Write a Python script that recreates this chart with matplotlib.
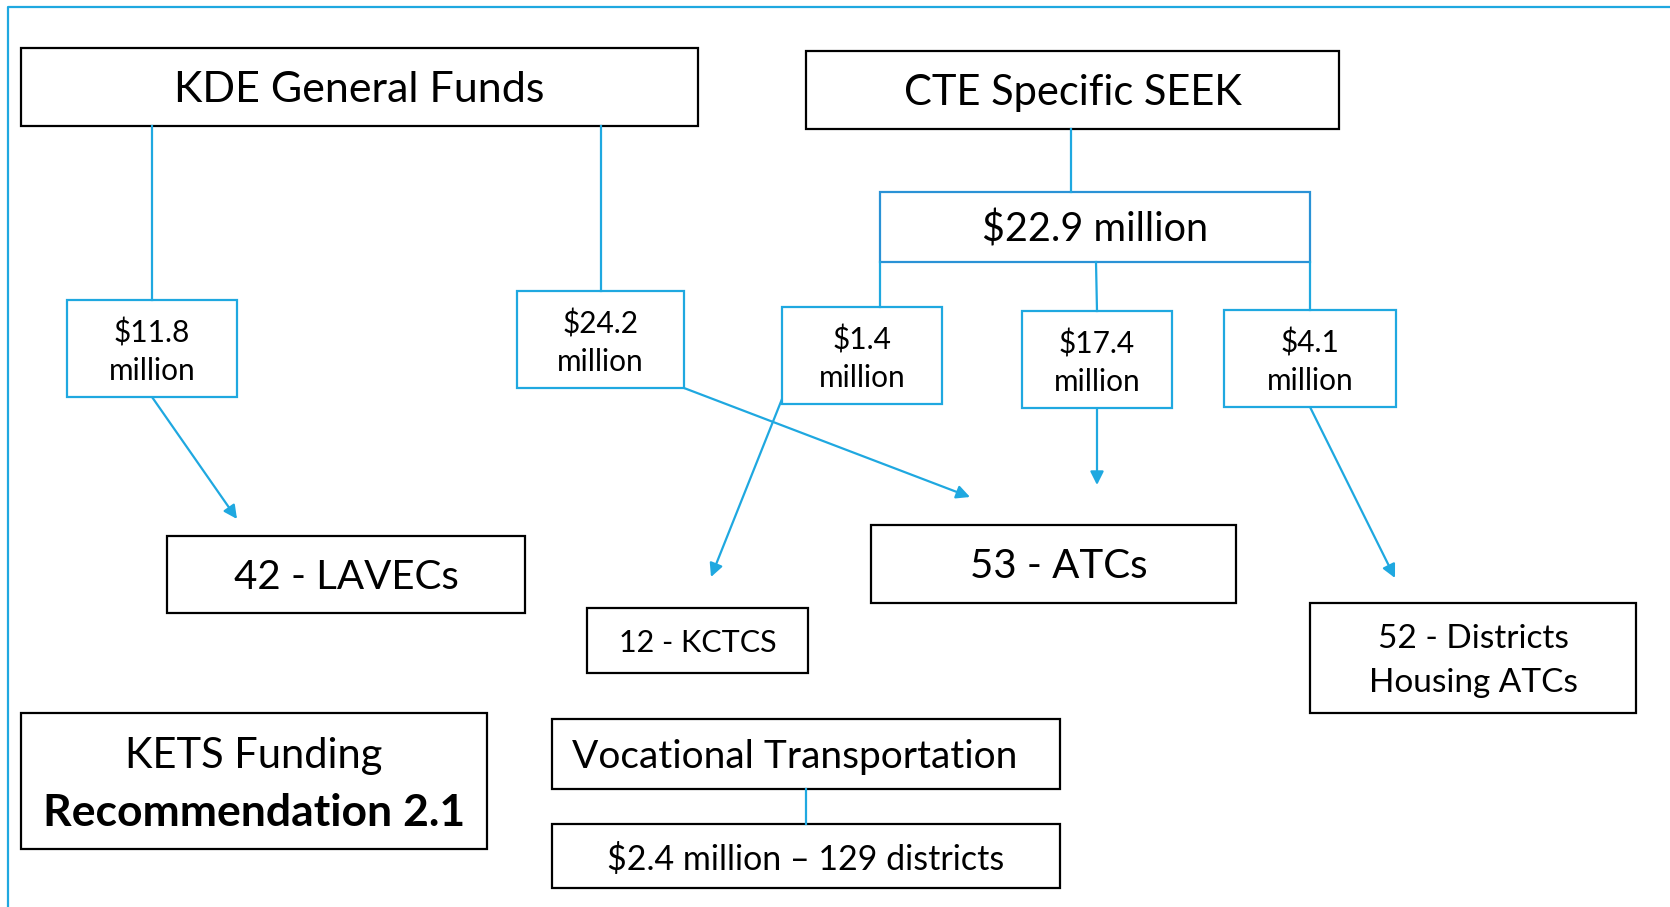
"""KETS funding flow diagram (Recommendation 2.1)."""
import matplotlib
matplotlib.use("Agg")
import matplotlib.pyplot as plt
from matplotlib.patches import Rectangle, FancyArrowPatch

W, H = 1670, 907
BLUE = "#1fa8e0"
BOX_BLUE = "#2a92d6"
TEXT_DY = 3  # small downward nudge, the original font sits lower

plt.rcParams["font.family"] = ["Lato", "DejaVu Sans"]

# node labels
node_ids = ["kde", "cte", "m229", "m118", "m242", "m14", "m174", "m41",
            "lavec", "atc", "kctcs", "dist", "kets", "voc", "voc_amt"]
node_labels = ["KDE General Funds", "CTE Specific SEEK", "$22.9 million",
               "$11.8\nmillion", "$24.2\nmillion", "$1.4\nmillion",
               "$17.4\nmillion", "$4.1\nmillion", "42 - LAVECs", "53 - ATCs",
               "12 - KCTCS", "52 - Districts\nHousing ATCs", None,
               "Vocational Transportation", "$2.4 million \u2013 129 districts"]
kets_lines = ["KETS Funding", "Recommendation 2.1"]

# layout (pixel boxes: x0, y0, x1, y1), edge colour, font size, text x shift
LAYOUT = {
    "kde": ((21, 48, 698, 126), "k", 31, 0),
    "cte": ((806, 51, 1339, 129), "k", 30, 0),
    "m229": ((880, 192, 1310, 262), BOX_BLUE, 28.5, 0),
    "m118": ((67, 300, 237, 397), BLUE, 21.5, 0),
    "m242": ((517, 291, 684, 388), BLUE, 21.5, 0),
    "m14": ((782, 307, 942, 404), BLUE, 21.5, 0),
    "m174": ((1022, 311, 1172, 408), BLUE, 21.5, 0),
    "m41": ((1224, 310, 1396, 407), BLUE, 21.5, 0),
    "lavec": ((167, 536, 525, 613), "k", 29, 0),
    "atc": ((871, 525, 1236, 603), "k", 29, 5),
    "kctcs": ((587, 608, 808, 673), "k", 22, 0),
    "dist": ((1310, 603, 1636, 713), "k", 24, 0),
    "kets": ((21, 713, 487, 849), "k", 30, 0),
    "voc": ((552, 719, 1060, 789), "k", 28, -11),
    "voc_amt": ((552, 824, 1060, 888), "k", 24.5, 0),
}

# plain connectors and arrows
links = [((152, 126), (152, 300)), ((601, 126), (601, 291)),
         ((1071, 129), (1071, 192)), ((880, 262), (880, 307)),
         ((1096, 262), (1097, 311)), ((1310, 262), (1310, 310)),
         ((806, 789), (806, 824))]
arrows = [((152, 397), (237, 519)), ((684, 388), (970, 497)),
          ((782, 399), (711, 577)), ((1097, 408), (1097, 485)),
          ((1310, 407), (1395, 578))]


def main():
    fig = plt.figure(figsize=(W / 100, H / 100), dpi=100)
    ax = fig.add_axes([0, 0, 1, 1])
    ax.set_xlim(0, W)
    ax.set_ylim(H, 0)
    ax.axis("off")

    # outer frame (left and top)
    ax.plot([8, 8, W], [H, 7, 7], color=BLUE, lw=1.6)

    for (a, b) in links:
        ax.plot([a[0], b[0]], [a[1], b[1]], color=BLUE, lw=1.6)
    for (a, b) in arrows:
        ax.add_patch(FancyArrowPatch(a, b, arrowstyle="-|>", mutation_scale=20,
                                     color=BLUE, lw=1.6, shrinkA=0, shrinkB=0))

    for nid, label in zip(node_ids, node_labels):
        (x0, y0, x1, y1), ec, fs, dx = LAYOUT[nid]
        ax.add_patch(Rectangle((x0, y0), x1 - x0, y1 - y0, fc="white",
                               ec=ec, lw=1.6))
        cx, cy = (x0 + x1) / 2 + dx, (y0 + y1) / 2 + TEXT_DY
        if label is None:
            ax.text(cx, cy - 28, kets_lines[0], ha="center", va="center",
                    fontsize=fs, color="k")
            ax.text(cx, cy + 29, kets_lines[1], ha="center", va="center",
                    fontsize=32, fontweight="bold", color="k")
        else:
            ls = 1.6 if nid == "dist" else 1.4
            ax.text(cx, cy, label, ha="center", va="center", fontsize=fs,
                    color="k", linespacing=ls)

    fig.savefig("out.png", dpi=100)


if __name__ == "__main__":
    main()
